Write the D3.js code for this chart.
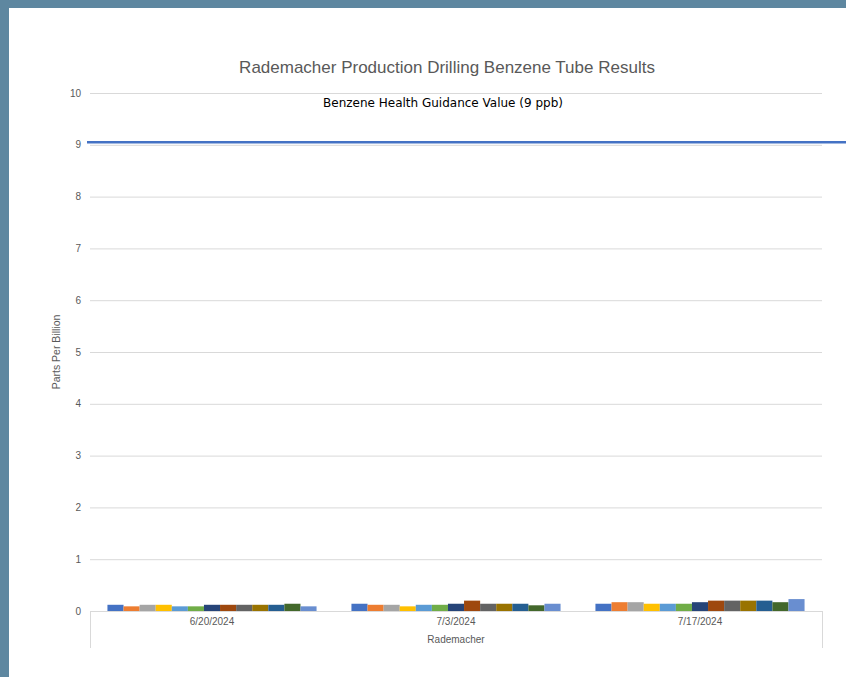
<!DOCTYPE html>
<meta charset="utf-8">
<style>
  body { margin: 0; background: #fff; }
  text { font-family: "Liberation Sans", Arial, sans-serif; }
  .grid line { stroke: #d9d9d9; stroke-width: 1; }
  .ylab { fill: #595959; font-size: 10px; }
  .xlab { fill: #595959; font-size: 10px; }
</style>
<body>
<script src="https://cdn.jsdelivr.net/npm/d3@7"></script>
<script>

var width = 846,
    height = 677;

// categories
var dates = ["6/20/2024", "7/3/2024", "7/17/2024"];
var groupName = "Rademacher";
var yTicks = [0, 1, 2, 3, 4, 5, 6, 7, 8, 9, 10];
var guidance = 9;

// 13 sampling tubes, ppb per date
var seriesValues = [
  [0.12, 0.14, 0.14],
  [0.09, 0.12, 0.17],
  [0.12, 0.12, 0.17],
  [0.12, 0.09, 0.14],
  [0.09, 0.12, 0.14],
  [0.09, 0.12, 0.14],
  [0.12, 0.14, 0.17],
  [0.12, 0.20, 0.20],
  [0.12, 0.14, 0.20],
  [0.12, 0.14, 0.20],
  [0.12, 0.14, 0.20],
  [0.14, 0.11, 0.17],
  [0.09, 0.14, 0.23]
];

var colors = ["#4472c4", "#ed7d31", "#a5a5a5", "#ffc000", "#5b9bd5", "#70ad47",
              "#264478", "#9e480e", "#636363", "#997300", "#255e91", "#43682b", "#698ed0"];

var margin = {left: 90, right: 24, top: 93, bottom: 66};
var plotRight = width - margin.right,
    plotBottom = height - margin.bottom;

var svg = d3.select("body").append("svg")
    .attr("width", width)
    .attr("height", height);

// frame strips
svg.append("rect").attr("x", 0).attr("y", 0).attr("width", width).attr("height", 8).attr("fill", "#5e87a0");
svg.append("rect").attr("x", 0).attr("y", 0).attr("width", 9).attr("height", height).attr("fill", "#5e87a0");

var y = d3.scaleLinear().domain([0, 10]).range([plotBottom, margin.top]);

var x0 = d3.scaleBand()
    .domain(dates)
    .range([margin.left, plotRight])
    .paddingInner(0.143)
    .paddingOuter(0.0715);

var x1 = d3.scaleBand()
    .domain(d3.range(seriesValues.length))
    .range([0, x0.bandwidth()]);

// gridlines
svg.append("g").attr("class", "grid")
  .selectAll("line")
  .data(yTicks.slice(1))
  .enter().append("line")
    .attr("x1", margin.left).attr("x2", plotRight)
    .attr("y1", function(d) { return y(d) + 0.5; })
    .attr("y2", function(d) { return y(d) + 0.5; });

svg.append("g")
  .selectAll("text")
  .data(yTicks)
  .enter().append("text")
    .attr("class", "ylab")
    .attr("x", 81)
    .attr("y", function(d) { return y(d); })
    .attr("dy", "0.35em")
    .attr("text-anchor", "end")
    .text(function(d) { return d; });

// bars
var groups = svg.append("g")
  .selectAll("g")
  .data(seriesValues)
  .enter().append("g")
    .attr("fill", function(d, i) { return colors[i]; });

groups.selectAll("rect")
  .data(function(d, i) { return d.map(function(v, j) { return {s: i, date: dates[j], v: v}; }); })
  .enter().append("rect")
    .attr("x", function(d) { return x0(d.date) + x1(d.s); })
    .attr("width", x1.bandwidth())
    .attr("y", function(d) { return y(d.v); })
    .attr("height", function(d) { return y(0) - y(d.v); });

// category axis
var axisG = svg.append("g").attr("stroke", "#d9d9d9").attr("fill", "none");
axisG.append("line")
    .attr("x1", margin.left).attr("x2", plotRight)
    .attr("y1", y(0) + 0.5).attr("y2", y(0) + 0.5);
axisG.selectAll(".edge")
  .data([margin.left, plotRight])
  .enter().append("line")
    .attr("x1", function(d) { return d + 0.5; }).attr("x2", function(d) { return d + 0.5; })
    .attr("y1", y(0)).attr("y2", y(0) + 37);

svg.append("g")
  .selectAll("text")
  .data(dates)
  .enter().append("text")
    .attr("class", "xlab")
    .attr("x", function(d) { return x0(d) + x0.bandwidth() / 2; })
    .attr("y", y(0) + 14)
    .attr("text-anchor", "middle")
    .text(function(d) { return d; });

svg.append("text")
    .attr("class", "xlab")
    .attr("x", (margin.left + plotRight) / 2)
    .attr("y", y(0) + 32)
    .attr("text-anchor", "middle")
    .text(groupName);

// guidance line
svg.append("line")
    .attr("x1", 87).attr("x2", width)
    .attr("y1", y(guidance) - 2.5).attr("y2", y(guidance) - 2.5)
    .attr("stroke", "#4472c4")
    .attr("stroke-width", 2.6);

svg.append("text")
    .attr("x", 443)
    .attr("y", 107)
    .attr("text-anchor", "middle")
    .style("font-family", "'DejaVu Sans', sans-serif")
    .style("font-size", "12px")
    .attr("fill", "#000")
    .text("Benzene Health Guidance Value (9 ppb)");

// title and y axis title
svg.append("text")
    .attr("x", 447)
    .attr("y", 73)
    .attr("text-anchor", "middle")
    .style("font-size", "17px")
    .attr("fill", "#595959")
    .text("Rademacher Production Drilling Benzene Tube Results");

svg.append("text")
    .attr("transform", "translate(60," + ((margin.top + plotBottom) / 2) + ")rotate(-90)")
    .attr("text-anchor", "middle")
    .style("font-size", "10.5px")
    .attr("fill", "#595959")
    .text("Parts Per Billion");

</script>
</body>
